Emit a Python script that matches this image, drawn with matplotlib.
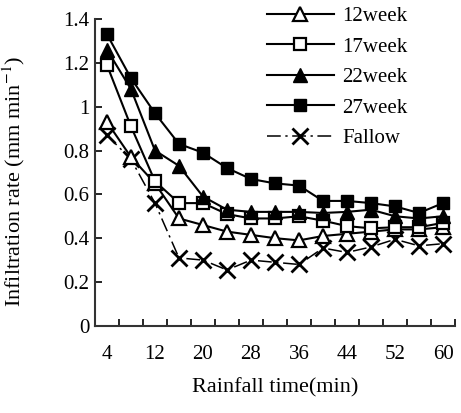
import matplotlib
matplotlib.use("Agg")
import matplotlib.pyplot as plt
from matplotlib.ticker import FixedLocator, FormatStrFormatter

plt.rcParams['font.family'] = ['Liberation Serif', 'DejaVu Serif']
plt.rcParams['mathtext.fontset'] = 'stix'

# rainfall time (min)
time = [4, 8, 12, 16, 20, 24, 28, 32, 36, 40, 44, 48, 52, 56, 60]

# infiltration rate (mm/min)
week12 = [0.93, 0.77, 0.65, 0.49, 0.46, 0.43, 0.415, 0.40, 0.39, 0.41, 0.42, 0.43, 0.44, 0.44, 0.45]
week17 = [1.19, 0.91, 0.66, 0.56, 0.56, 0.51, 0.49, 0.49, 0.50, 0.48, 0.455, 0.445, 0.45, 0.45, 0.47]
week22 = [1.26, 1.08, 0.80, 0.73, 0.59, 0.53, 0.52, 0.52, 0.52, 0.515, 0.52, 0.53, 0.50, 0.49, 0.50]
week27 = [1.33, 1.13, 0.97, 0.83, 0.79, 0.72, 0.67, 0.65, 0.64, 0.57, 0.57, 0.56, 0.545, 0.515, 0.56]
fallow = [0.87, 0.76, 0.56, 0.31, 0.30, 0.255, 0.30, 0.29, 0.28, 0.355, 0.335, 0.36, 0.395, 0.365, 0.375]

xtick_labels = [4, 12, 20, 28, 36, 44, 52, 60]

fig = plt.figure(figsize=(4.61, 4.13), dpi=100)
ax = fig.add_axes([0.206, 0.211, 0.781, 0.743])

lw = 1.5
ax.plot(time, fallow, color='black', lw=1.1, dashes=(9, 3, 1.5, 3),
        marker='x', ms=11, mew=2.0, mec='black', label='Fallow', zorder=2)
ax.plot(time, week12, color='black', lw=lw, marker='^', ms=10, mfc='white',
        mec='black', mew=1.6, label='12week', zorder=3)
ax.plot(time, week17, color='black', lw=lw, marker='s', ms=9, mfc='white',
        mec='black', mew=1.6, label='17week', zorder=4)
ax.plot(time, week22, color='black', lw=lw, marker='^', ms=10, mfc='black',
        mec='black', label='22week', zorder=5)
ax.plot(time, week27, color='black', lw=lw, marker='s', ms=9, mfc='black',
        mec='black', label='27week', zorder=6)

ax.set_xlim(2, 62)
ax.set_ylim(0, 1.4)
ax.set_yticks([0, 0.2, 0.4, 0.6, 0.8, 1.0, 1.2, 1.4])
ax.yaxis.set_major_formatter(FormatStrFormatter('%g'))
ax.set_xticks(xtick_labels)
ax.xaxis.set_minor_locator(FixedLocator(range(6, 63, 4)))
ax.tick_params(axis='x', which='major', length=0, labelsize=15, pad=14)
ax.tick_params(axis='x', which='minor', direction='in', length=5, width=1.2)
ax.tick_params(axis='y', direction='in', length=5, width=1.2, labelsize=15, pad=4)

for side in ['top', 'right']:
    ax.spines[side].set_visible(False)
for side in ['left', 'bottom']:
    ax.spines[side].set_linewidth(1.5)
    ax.spines[side].set_color('#333333')

ax.set_xlabel('Rainfall time(min)', fontsize=16, labelpad=10)
ax.set_ylabel('Infiltration rate (mm min$^{-1}$)', fontsize=16)
ax.yaxis.set_label_coords(-0.19, 0.47)

handles, labels = ax.get_legend_handles_labels()
order = [1, 2, 3, 4, 0]
ax.legend([handles[i] for i in order], [labels[i] for i in order],
          loc='upper left', bbox_to_anchor=(0.478, 1.04), frameon=False,
          borderaxespad=0, borderpad=0,
          fontsize=15, handlelength=3.2, labelspacing=0.52, handletextpad=0.4)

fig.savefig('out.png', dpi=100)
